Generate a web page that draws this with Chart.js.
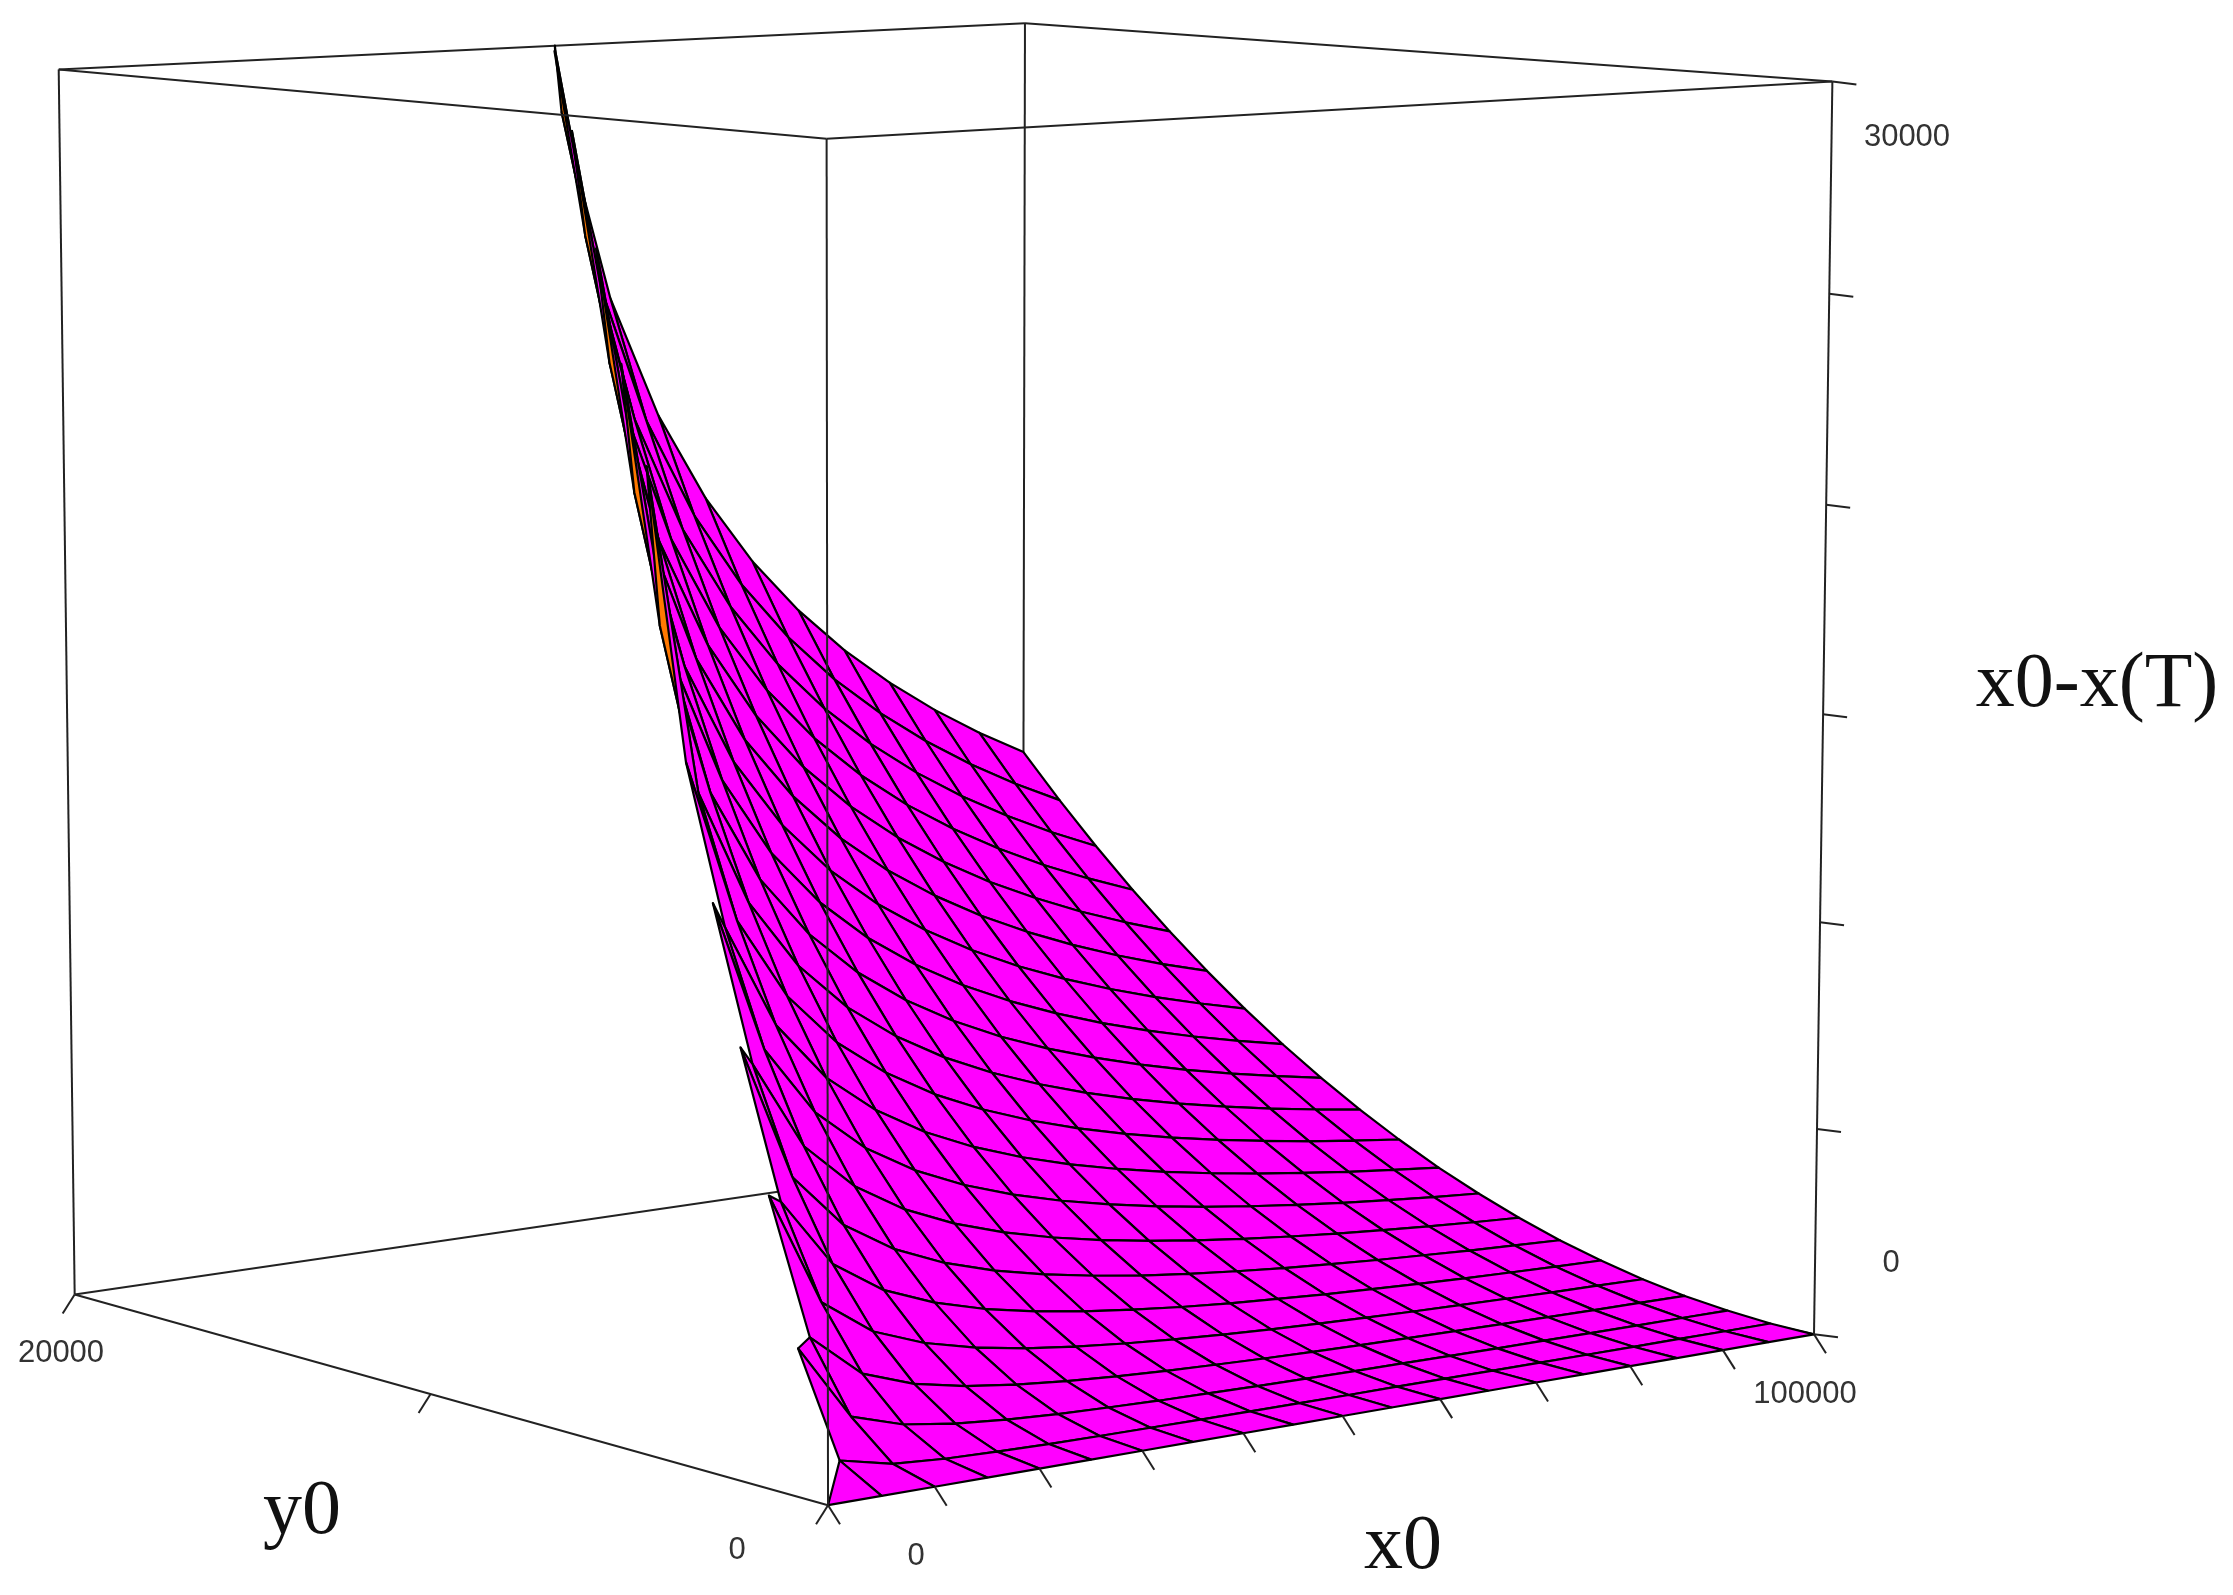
<!DOCTYPE html>
<html><head><meta charset="utf-8">
<style>html,body{margin:0;padding:0;background:#fff}canvas{display:block}</style>
<script src="https://cdn.jsdelivr.net/npm/chart.js@4"></script></head>
<body><canvas id="c" width="2233" height="1595"></canvas>
<script>
// surface x0-x(T), one row per y0, one column per x0
const x0Values = [0,5000,10000,15000,20000,25000,30000,35000,40000,45000,50000,55000,60000,65000,70000,75000,80000,85000,90000,95000,100000];
const y0Values = [0,1000,2000,3000,4000,5000,6000,7000,8000,9000,10000,11000,12000,13000,14000,15000,16000,17000,18000,19000,20000];
const _ = null; // no value there, the mesh has a hole
const zRows = [
 [0,0,0,0,0,0,0,0,0,0,0,0,0,0,0,0,0,0,0,0,0],
 [_,540,260,170,130,100,85,75,65,55,50,45,45,40,35,35,30,30,30,25,25],
 [_,2830,1080,700,520,410,340,295,255,230,205,185,170,160,145,135,130,120,115,110,105],
 [_,_,2650,1620,1190,940,780,665,580,515,465,420,385,355,330,310,290,270,255,245,230],
 [_,_,5670,3030,2160,1700,1400,1190,1040,920,825,750,685,635,590,550,515,485,455,435,410],
 [_,_,_,5130,3500,2700,2220,1880,1635,1445,1300,1175,1075,995,920,860,805,755,715,675,645],
 [_,_,_,8500,5300,4000,3250,2740,2375,2100,1880,1700,1555,1435,1330,1240,1160,1095,1030,975,925],
 [_,_,_,_,7740,5640,4520,3790,3270,2880,2575,2330,2130,1960,1815,1695,1585,1490,1405,1330,1265],
 [_,_,_,_,11330,7720,6060,5040,4330,3800,3390,3065,2800,2570,2380,2220,2075,1950,1840,1740,1655],
 [_,_,_,_,_,10420,7940,6520,5570,4870,4335,3910,3560,3275,3030,2820,2635,2480,2335,2210,2095],
 [_,_,_,_,_,14170,10250,8280,7000,6100,5410,4870,4430,4065,3760,3495,3270,3070,2890,2735,2595],
 [_,_,_,_,_,21040,13140,10350,8670,7500,6630,5950,5405,4955,4575,4250,3970,3730,3510,3320,3150],
 [_,_,_,_,_,_,17000,12840,10590,9100,8005,7165,6490,5940,5480,5090,4750,4455,4195,3965,3760],
 [_,_,_,_,_,_,23150,15890,12840,10915,9550,8520,7700,7035,6480,6010,5605,5255,4945,4670,4425],
 [_,_,_,_,_,_,_,19830,15480,12990,11290,10020,9030,8235,7575,7015,6540,6125,5760,5440,5150],
 [_,_,_,_,_,_,_,25630,18660,15380,13240,11700,10510,9555,8775,8115,7555,7070,6645,6270,5940],
 [_,_,_,_,_,_,_,_,22660,18150,15450,13560,12130,11000,10080,9310,8655,8095,7600,7170,6785],
 [_,_,_,_,_,_,_,_,28240,21440,17960,15630,13920,12580,11500,10605,9850,9200,8630,8135,7695],
 [_,_,_,_,_,_,_,_,_,25500,20840,17955,15890,14310,13050,12010,11135,10385,9740,9170,8670],
 [_,_,_,_,_,_,_,_,_,30920,24230,20570,18070,16200,14730,13520,12520,11665,10925,10280,9710],
 [_,_,_,_,_,_,_,_,_,41000,28330,23560,20500,18280,16550,15160,14010,13035,12195,11465,10820]
];
const x0Ticks = [0,10000,20000,30000,40000,50000,60000,70000,80000,90000,100000];
const y0Ticks = [0,10000,20000];
const zTicks = [0,5000,10000,15000,20000,25000,30000];
const X_MAX = 100000, Y_MAX = 20000, Z_MAX = 30000;

// where the 8 box corners sit on the page: u, v, w, pageX, pageY
const corners = [[0,0,0,827,1505],[1,0,0,1813,1334],[0,1,0,74,1295],[1,1,0,1025,1156],
                 [0,0,1,827,140],[1,0,1,1834,81],[0,1,1,60,68],[1,1,1,1022,24]];

// least squares fit of the perspective camera through those corners
function solveCamera() {
    const n = 11, A = [...Array(n)].map(() => Array(n + 1).fill(0));
    const add = (r, b) => {
        for (let a = 0; a < n; a++) {
            for (let c = 0; c < n; c++) A[a][c] += r[a] * r[c];
            A[a][n] += r[a] * b;
        }
    };
    corners.forEach(([u, v, w, sx, sy]) => {
        add([u, v, w, 1, 0, 0, 0, 0, -sx * u, -sx * v, -sx * w], sx);
        add([0, 0, 0, 0, u, v, w, 1, -sy * u, -sy * v, -sy * w], sy);
    });
    for (let i = 0; i < n; i++) {
        let m = i;
        for (let k = i + 1; k < n; k++) if (Math.abs(A[k][i]) > Math.abs(A[m][i])) m = k;
        [A[i], A[m]] = [A[m], A[i]];
        for (let k = 0; k < n; k++) {
            if (k === i) continue;
            const f = A[k][i] / A[i][i];
            for (let c = i; c <= n; c++) A[k][c] -= f * A[i][c];
        }
    }
    return A.map((r, i) => r[n] / r[i]);
}
const P = solveCamera();

function depth(x, y, z) {
    return P[8] * x / X_MAX + P[9] * y / Y_MAX + P[10] * z / Z_MAX + 1;
}
function proj(x, y, z) {
    const u = x / X_MAX, v = y / Y_MAX, w = z / Z_MAX, d = depth(x, y, z);
    return { x: (P[0] * u + P[1] * v + P[2] * w + P[3]) / d, y: (P[4] * u + P[5] * v + P[6] * w + P[7]) / d };
}

const LINE = '#222';
const lineDs = pts => ({ data: pts, showLine: true, fill: false, borderColor: LINE, borderWidth: 2, pointRadius: 0, clip: false });
const seg = (a, b) => lineDs([proj(...a), proj(...b)]);
const shift = (p, dx, dy) => ({ x: p.x + dx, y: p.y + dy });

// box edges behind the surface
const backEdges = [
    seg([0, Y_MAX, 0], [X_MAX, Y_MAX, 0]), seg([X_MAX, 0, 0], [X_MAX, Y_MAX, 0]),
    seg([X_MAX, Y_MAX, 0], [X_MAX, Y_MAX, Z_MAX]), seg([0, Y_MAX, Z_MAX], [X_MAX, Y_MAX, Z_MAX]),
    seg([X_MAX, 0, Z_MAX], [X_MAX, Y_MAX, Z_MAX])
];

// keep only the part of a mesh cell that lies under the top of the box
function clipTop(nodes) {
    const out = [];
    nodes.forEach((a, k) => {
        const b = nodes[(k + 1) % nodes.length];
        if (a[2] <= Z_MAX) out.push(a);
        if ((a[2] <= Z_MAX) !== (b[2] <= Z_MAX)) {
            const t = (Z_MAX - a[2]) / (b[2] - a[2]);
            out.push([a[0] + t * (b[0] - a[0]), a[1] + t * (b[1] - a[1]), Z_MAX]);
        }
    });
    return out;
}

// mesh cells, far ones first. A cell with one hole is still drawn as a triangle
const cells = [];
for (let j = 0; j < y0Values.length - 1; j++) {
    for (let i = 0; i < x0Values.length - 1; i++) {
        let nodes = [[i, j], [i + 1, j], [i + 1, j + 1], [i, j + 1]]
            .map(([a, b]) => [x0Values[a], y0Values[b], zRows[b][a]])
            .filter(n => n[2] !== null);
        if (nodes.length < 3) continue;
        nodes = clipTop(nodes);
        if (nodes.length < 3) continue;
        const pts = nodes.map(n => proj(...n));
        let area = 0;
        pts.forEach((p, k) => {
            const q = pts[(k + 1) % pts.length];
            area += p.x * q.y - q.x * p.y;
        });
        const far = nodes.reduce((s, n) => s + depth(...n), 0) / nodes.length;
        cells.push({ pts, area, far });
    }
}
cells.sort((a, b) => b.far - a.far);
// the underside of the sheet is orange
const surface = cells.map(c => ({
    data: [...c.pts, c.pts[0]], showLine: true, fill: 'shape',
    backgroundColor: c.area < 0 ? '#ff00ff' : '#ff7800',
    borderColor: '#000', borderWidth: 2.2, borderJoinStyle: 'round', pointRadius: 0, clip: false
}));

// box edges in front of the surface
const frontEdges = [
    seg([0, 0, 0], [0, 0, Z_MAX]), seg([0, 0, 0], [0, Y_MAX, 0]), seg([X_MAX, 0, 0], [X_MAX, 0, Z_MAX]),
    seg([0, Y_MAX, 0], [0, Y_MAX, Z_MAX]), seg([0, Y_MAX, Z_MAX], [0, 0, Z_MAX]), seg([0, 0, Z_MAX], [X_MAX, 0, Z_MAX])
];

const tickMarks = [
    ...x0Ticks.map(x => { const p = proj(x, 0, 0); return lineDs([p, shift(p, 12, 19)]); }),
    ...y0Ticks.map(y => { const p = proj(0, y, 0); return lineDs([p, shift(p, -12, 19)]); }),
    ...zTicks.map(z => { const p = proj(X_MAX, 0, z); return lineDs([p, shift(p, 24, 3)]); })
];

const datasets = [...backEdges, ...surface, ...frontEdges, ...tickMarks];
datasets.forEach((d, i) => { d.order = datasets.length - i; }); // higher order is drawn first

const SMALL = '31px "Liberation Sans"', BIG = '78px "Liberation Serif"';
const labels = [
    { t: '30000', x: 1907, y: 137, f: SMALL, c: '#333' },
    { t: '0', x: 1891, y: 1263, f: SMALL, c: '#333' },
    { t: '20000', x: 61, y: 1353, f: SMALL, c: '#333' },
    { t: '0', x: 737, y: 1550, f: SMALL, c: '#333' },
    { t: '0', x: 916, y: 1556, f: SMALL, c: '#333' },
    { t: '100000', x: 1805, y: 1394, f: SMALL, c: '#333' },
    { t: 'y0', x: 302, y: 1513, f: BIG, c: '#111' },
    { t: 'x0', x: 1403, y: 1548, f: BIG, c: '#111' },
    { t: 'x0-x(T)', x: 2097, y: 686, f: BIG, c: '#111' }
];
const labelPlugin = {
    id: 'labels',
    afterDraw(chart) {
        const g = chart.ctx;
        g.save();
        g.textAlign = 'center';
        g.textBaseline = 'middle';
        labels.forEach(l => {
            g.font = l.f;
            g.fillStyle = l.c;
            g.fillText(l.t, l.x, l.y);
        });
        g.restore();
    }
};

new Chart(document.getElementById('c'), {
    type: 'scatter',
    data: { datasets },
    plugins: [labelPlugin],
    options: {
        responsive: false,
        animation: false,
        layout: { padding: 0 },
        events: [],
        plugins: { legend: { display: false }, tooltip: { enabled: false } },
        scales: {
            x: { type: 'linear', min: 0, max: 2233, display: false },
            y: { type: 'linear', min: 0, max: 1595, reverse: true, display: false }
        }
    }
});
</script></body></html>
